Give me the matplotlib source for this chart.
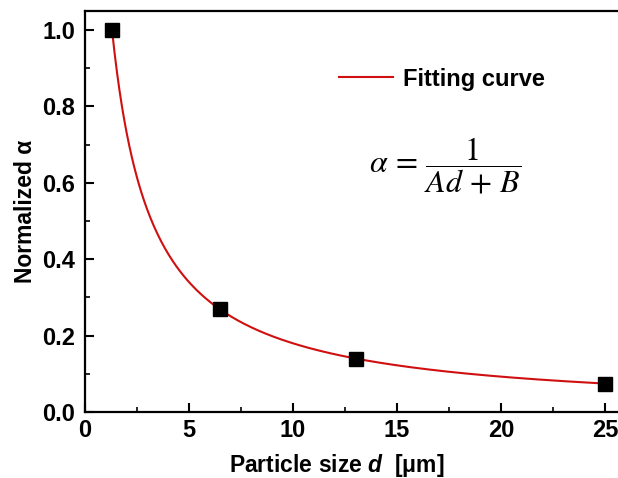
import numpy as np
import matplotlib
matplotlib.use("Agg")
import matplotlib.pyplot as plt
from matplotlib.ticker import MultipleLocator

# Data
particle_size = [1.3, 6.5, 13.0, 25.0]       # d [um]
normalized_alpha = [1.0, 0.27, 0.138, 0.073]

x_ticks = [0, 5, 10, 15, 20, 25]
y_ticks = [0.0, 0.2, 0.4, 0.6, 0.8, 1.0]

plt.rcParams['font.family'] = ['Liberation Sans', 'DejaVu Sans']
plt.rcParams['mathtext.fontset'] = 'custom'
plt.rcParams['mathtext.it'] = 'Liberation Sans:italic:bold'
plt.rcParams['mathtext.rm'] = 'Liberation Sans:bold'

fig = plt.figure(figsize=(6.18, 4.78), dpi=100)
ax = fig.add_axes([85/618, 66/478, 541/618, 401/478])

# Fit alpha = 1/(A d + B) from the data points (weighted linear fit of 1/alpha)
d_arr = np.asarray(particle_size)
a_arr = np.asarray(normalized_alpha)
A, B = np.polyfit(d_arr, 1.0 / a_arr, 1, w=a_arr**2)
d_fit = np.linspace(d_arr.min(), d_arr.max(), 400)
ax.plot(d_fit, 1.0 / (A * d_fit + B), color='#d01010', lw=1.5, label='Fitting curve', zorder=2)
ax.plot(particle_size, normalized_alpha, 's', color='black', ms=10.5, zorder=3)

ax.set_xlim(0, 26)
ax.set_ylim(0, 1.05)
ax.set_xticks(x_ticks)
ax.set_yticks(y_ticks)
ax.set_xticklabels([str(t) for t in x_ticks])
ax.set_yticklabels([f"{t:.1f}" for t in y_ticks])
ax.xaxis.set_minor_locator(MultipleLocator(2.5))
ax.yaxis.set_minor_locator(MultipleLocator(0.1))
ax.tick_params(which='major', direction='in', length=6.5, width=1.5, labelsize=17)
ax.tick_params(axis='y', which='major', pad=7)
ax.tick_params(axis='x', which='major', pad=5)
ax.tick_params(which='minor', direction='in', length=3.5, width=1.2)
for lab in ax.get_xticklabels() + ax.get_yticklabels():
    lab.set_fontweight('bold')
for sp in ax.spines.values():
    sp.set_linewidth(1.6)

ax.set_xlabel(r'Particle size $d$  [μm]', fontsize=16.5, fontweight='bold')
ax.xaxis.set_label_coords(0.466, -0.1)
ax.set_ylabel('Normalized α', fontsize=16.5, fontweight='bold')
ax.yaxis.set_label_coords(-0.088, 0.5)

leg = ax.legend(loc='center left', bbox_to_anchor=(0.452, 0.83), frameon=False,
                handlelength=2.3, handletextpad=0.4, borderaxespad=0,
                prop={'weight': 'bold', 'size': 17})

ax.text(17.3, 0.645, r'$\alpha\,=\,\dfrac{1}{Ad\,+\,B}$', fontsize=23, ha='center', va='center',
        math_fontfamily='stix', fontweight='normal')

fig.savefig('out.png', dpi=100)
